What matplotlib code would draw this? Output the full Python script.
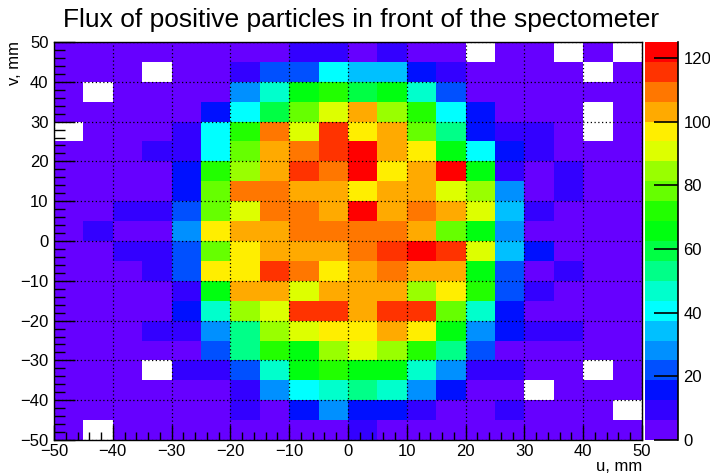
import numpy as np
import matplotlib
matplotlib.use("Agg")
import matplotlib.pyplot as plt
from matplotlib.colors import ListedColormap, BoundaryNorm
from matplotlib.ticker import MultipleLocator

plt.rcParams['font.family'] = ['Liberation Sans', 'DejaVu Sans']

# bin edges (mm)
u_edges = np.arange(-50, 51, 5)
v_edges = np.arange(-50, 51, 5)

# counts per bin, top row (v = 45..50) first, columns u = -50 .. 50; 0 = empty bin
counts = [
    [3, 3, 3, 3, 3, 3, 3, 3, 9, 9, 3, 9, 3, 3, 0, 3, 3, 0, 3, 0],
    [3, 3, 3, 0, 3, 3, 9, 22, 22, 41, 34, 34, 16, 9, 3, 3, 3, 3, 0, 3],
    [3, 0, 3, 3, 3, 3, 28, 47, 66, 72, 59, 66, 47, 22, 3, 3, 3, 3, 3, 3],
    [3, 3, 3, 3, 3, 16, 41, 59, 78, 91, 103, 84, 72, 41, 16, 3, 3, 3, 0, 3],
    [0, 3, 3, 3, 9, 41, 72, 109, 91, 116, 97, 103, 78, 53, 16, 9, 9, 3, 0, 3],
    [3, 3, 3, 9, 9, 41, 78, 103, 109, 116, 122, 103, 97, 66, 41, 16, 9, 3, 3, 3],
    [3, 3, 3, 3, 16, 72, 84, 103, 116, 109, 122, 97, 103, 122, 66, 9, 3, 9, 3, 3],
    [3, 3, 3, 3, 16, 78, 109, 109, 103, 103, 97, 103, 103, 91, 84, 28, 3, 9, 3, 3],
    [3, 3, 9, 9, 22, 78, 91, 109, 109, 103, 122, 103, 109, 103, 91, 34, 9, 3, 3, 3],
    [3, 9, 3, 3, 28, 97, 103, 103, 109, 109, 109, 109, 103, 78, 66, 28, 3, 3, 3, 3],
    [3, 3, 9, 9, 22, 78, 97, 103, 103, 103, 109, 116, 122, 116, 91, 34, 16, 3, 3, 3],
    [3, 3, 3, 9, 22, 97, 97, 116, 109, 97, 103, 109, 103, 103, 66, 22, 3, 9, 3, 3],
    [3, 3, 3, 3, 9, 66, 103, 103, 91, 103, 103, 103, 84, 97, 72, 22, 9, 3, 3, 3],
    [3, 3, 3, 3, 16, 47, 84, 91, 116, 116, 103, 116, 116, 78, 47, 16, 3, 3, 3, 3],
    [3, 3, 3, 9, 9, 28, 53, 84, 91, 97, 97, 103, 97, 66, 28, 16, 9, 9, 3, 3],
    [3, 3, 3, 3, 3, 22, 53, 72, 66, 84, 91, 84, 72, 53, 22, 3, 3, 3, 3, 3],
    [3, 3, 3, 0, 9, 9, 22, 47, 66, 72, 66, 66, 47, 28, 9, 9, 3, 3, 0, 3],
    [3, 3, 3, 3, 3, 3, 9, 28, 41, 47, 53, 47, 28, 16, 3, 3, 0, 3, 3, 3],
    [3, 3, 3, 3, 3, 3, 9, 3, 16, 28, 16, 16, 9, 3, 3, 9, 3, 3, 3, 0],
    [3, 0, 3, 3, 3, 3, 3, 3, 3, 3, 9, 3, 3, 3, 3, 3, 3, 3, 3, 3],
]

# ROOT-like rainbow palette, 20 contour levels
palette = ['#6600ff', '#3300ff', '#0010ff', '#0050ff', '#0090ff', '#00c0ff',
           '#00ffff', '#00ffcc', '#00ff88', '#00ff44', '#00ff10', '#22ff00',
           '#66ff00', '#99ff00', '#ddff00', '#ffee00', '#ffaa00', '#ff7700',
           '#ff3300', '#ff0000']
z_max = 125
n_levels = 20

data = np.array(counts, dtype=float)[::-1]
data = np.ma.masked_where(data <= 0, data)

cmap = ListedColormap(palette)
cmap.set_bad('white')
levels = np.linspace(0, z_max, n_levels + 1)
norm = BoundaryNorm(levels, cmap.N)

W, H = 710, 473
fig = plt.figure(figsize=(W / 100, H / 100), dpi=100)
ax = fig.add_axes([54 / W, 33 / H, 588 / W, 398 / H])
cax = fig.add_axes([645 / W, 33 / H, 33 / W, 398 / H])

mesh = ax.pcolormesh(u_edges, v_edges, data, cmap=cmap, norm=norm, zorder=1)
ax.set_xlim(-50, 50)
ax.set_ylim(-50, 50)

ax.xaxis.set_major_locator(MultipleLocator(10))
ax.xaxis.set_minor_locator(MultipleLocator(2))
ax.yaxis.set_major_locator(MultipleLocator(10))
ax.yaxis.set_minor_locator(MultipleLocator(2))
ax.tick_params(which='both', direction='in', top=False, right=False,
               labelsize=12, width=1, color='black', pad=4)
ax.tick_params(axis='x', which='major', length=11, pad=3)
ax.tick_params(axis='x', which='minor', length=6)
ax.tick_params(axis='y', which='major', length=15)
ax.tick_params(axis='y', which='minor', length=8)
ax.grid(True, which='major', color='black', linestyle=(0, (1, 2)), linewidth=0.9, zorder=2)
ax.set_axisbelow(False)
for s in ax.spines.values():
    s.set_linewidth(1)

fig.text(361 / W, 1 - 27.5 / H, 'Flux of positive particles in front of the spectometer',
         ha='center', va='baseline', fontsize=19)
fig.text(642 / W, 1 - 470.5 / H, 'u, mm', ha='right', va='baseline', fontsize=12)
fig.text(7 / W, 1 - 41 / H, 'v, mm', ha='left', va='top', rotation=90, fontsize=12)

cb = fig.colorbar(mesh, cax=cax, ticks=np.arange(0, 121, 20))
cb.outline.set_visible(False)
cax.plot([1, 1], [0, 1], transform=cax.transAxes, color='black', lw=1.2, clip_on=False)
cax.tick_params(direction='in', length=17, width=1.2, labelsize=12, right=True, pad=4)
cb.ax.minorticks_off()
cb.ax.set_yticklabels([str(t) for t in range(0, 121, 20)])

fig.savefig('out.png', dpi=100)
